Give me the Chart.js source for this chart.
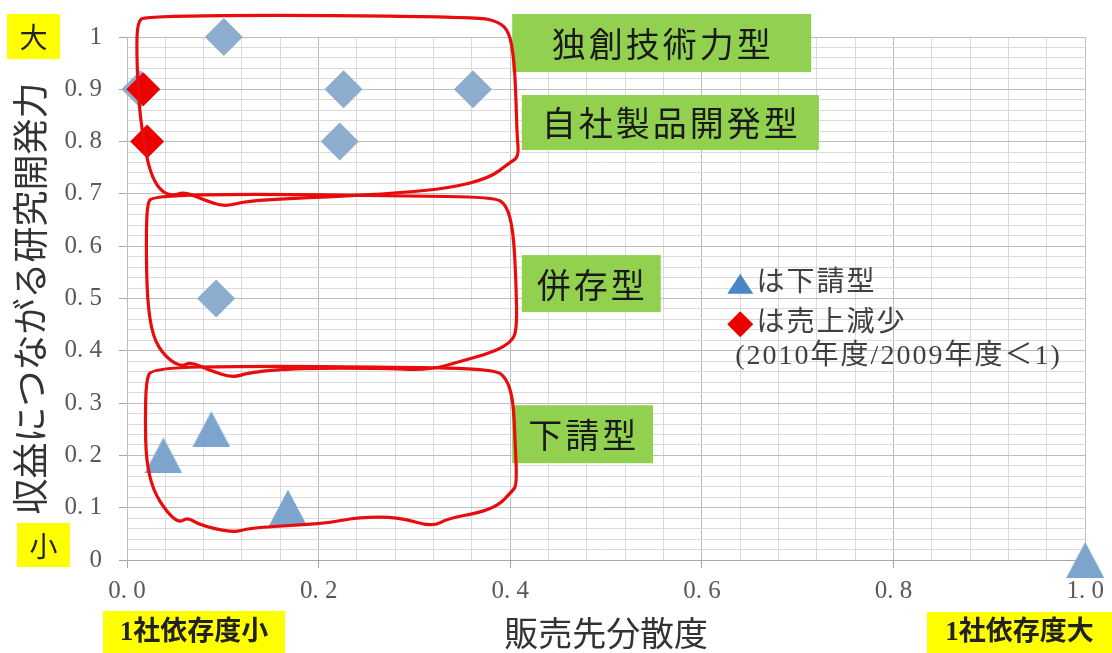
<!DOCTYPE html>
<html lang="ja">
<head>
<meta charset="utf-8" />
<title>販売先分散度と研究開発力</title>
<script src="https://cdn.jsdelivr.net/npm/chart.js@4.4.0/dist/chart.umd.min.js"></script>
<style>
  body { margin: 0; background: #fff; }
  canvas { display: block; }
</style>
</head>
<body>
<canvas id="myChart" width="1112" height="653"></canvas>
<script>
// ◆ 研究開発型の企業
var diamondX = [0.014, 0.101, 0.226, 0.222, 0.361, 0.093];
var diamondY = [0.9, 1.0, 0.9, 0.8, 0.9, 0.5];
// 赤◆ 売上減少 (2010年度/2009年度<1)
var declineX = [0.017, 0.021];
var declineY = [0.9, 0.8];
// ▲ 下請型
var subconX = [0.038, 0.088, 0.168, 1.0];
var subconY = [0.2, 0.25, 0.1, 0.0];

var xTickLabels = ['0. 0', '0. 2', '0. 4', '0. 6', '0. 8', '1. 0'];
var yTickLabels = ['0', '0. 1', '0. 2', '0. 3', '0. 4', '0. 5', '0. 6', '0. 7', '0. 8', '0. 9', '1'];

var SERIF = "'Liberation Serif', 'Noto Sans CJK JP', serif";
var GOTHIC = "'Noto Sans CJK JP', sans-serif";

function zip(xs, ys) {
    var out = [];
    for (var i = 0; i < xs.length; i++) out.push({x: xs[i], y: ys[i]});
    return out;
}

function majorIndex(v, step) {
    var k = Math.round(v / step);
    return Math.abs(v - k * step) < 1e-6 ? k : -1;
}

// bbox-centred triangle marker
function makeTriangle(w, h, color) {
    var c = document.createElement('canvas');
    c.width = w; c.height = h;
    var g = c.getContext('2d');
    g.fillStyle = color;
    g.beginPath();
    g.moveTo(w / 2, 0);
    g.lineTo(w, h);
    g.lineTo(0, h);
    g.closePath();
    g.fill();
    return c;
}

// hand drawn groupings, in data units
var loops = [
    [[0.019,1.040],[0.180,1.042],[0.367,1.038],[0.388,1.029],[0.399,1.010],[0.404,0.956],[0.406,0.880],
     [0.407,0.813],[0.409,0.771],[0.399,0.759],[0.378,0.730],[0.336,0.711],[0.284,0.702],[0.211,0.694],
     [0.128,0.688],[0.102,0.675],[0.081,0.688],[0.060,0.704],[0.047,0.696],[0.034,0.707],[0.024,0.742],
     [0.017,0.803],[0.012,0.880],[0.010,0.975],[0.011,1.029]],
    [[0.026,0.696],[0.128,0.700],[0.284,0.696],[0.383,0.694],[0.396,0.679],[0.403,0.631],[0.406,0.535],
     [0.407,0.440],[0.401,0.417],[0.383,0.398],[0.347,0.379],[0.315,0.363],[0.263,0.367],[0.180,0.367],
     [0.128,0.359],[0.110,0.348],[0.086,0.363],[0.066,0.379],[0.057,0.369],[0.040,0.388],[0.027,0.426],
     [0.021,0.497],[0.020,0.612],[0.021,0.679]],
    [[0.026,0.367],[0.128,0.371],[0.284,0.369],[0.383,0.365],[0.396,0.348],[0.403,0.306],[0.405,0.229],
     [0.407,0.143],[0.401,0.130],[0.388,0.105],[0.367,0.090],[0.336,0.080],[0.318,0.063],[0.284,0.082],
     [0.242,0.082],[0.211,0.071],[0.180,0.067],[0.128,0.061],[0.110,0.052],[0.076,0.067],[0.063,0.082],
     [0.055,0.071],[0.042,0.090],[0.027,0.134],[0.020,0.191],[0.019,0.268],[0.020,0.344]]
];

// category labels (left, top, right, bottom in data units)
var typeBoxes = [
    {text: '独創技術力型', box: [0.402, 1.044, 0.714, 0.933]},
    {text: '自社製品開発型', box: [0.412, 0.889, 0.722, 0.784]},
    {text: '併存型', box: [0.412, 0.583, 0.557, 0.474]},
    {text: '下請型', box: [0.402, 0.296, 0.549, 0.185]}
];

function drawLoop(ctx, pts) {
    var n = pts.length;
    function mid(a, b) { return [(a[0] + b[0]) / 2, (a[1] + b[1]) / 2]; }
    var m0 = mid(pts[n - 1], pts[0]);
    ctx.beginPath();
    ctx.moveTo(m0[0], m0[1]);
    for (var i = 0; i < n; i++) {
        var m = mid(pts[i], pts[(i + 1) % n]);
        ctx.quadraticCurveTo(pts[i][0], pts[i][1], m[0], m[1]);
    }
    ctx.closePath();
    ctx.stroke();
}

function yellowLabel(ctx, text, l, t, r, b, font) {
    ctx.fillStyle = '#ffff00';
    ctx.fillRect(l, t, r - l, b - t);
    ctx.fillStyle = '#222';
    ctx.font = font;
    ctx.textAlign = 'center';
    ctx.textBaseline = 'middle';
    ctx.fillText(text, (l + r) / 2, (t + b) / 2 + 1);
}

var annotations = {
    id: 'annotations',
    afterDatasetsDraw: function(chart) {
        var ctx = chart.ctx, xs = chart.scales.x, ys = chart.scales.y;
        ctx.save();
        typeBoxes.forEach(function(tb) {
            var l = xs.getPixelForValue(tb.box[0]), t = ys.getPixelForValue(tb.box[1]);
            var r = xs.getPixelForValue(tb.box[2]), b = ys.getPixelForValue(tb.box[3]);
            ctx.fillStyle = '#92d050';
            ctx.fillRect(l, t, r - l, b - t);
            ctx.fillStyle = '#1a1a1a';
            ctx.font = '34px ' + GOTHIC;
            ctx.letterSpacing = '3px';
            ctx.textAlign = 'center';
            ctx.textBaseline = 'middle';
            ctx.fillText(tb.text, (l + r) / 2 + 1, (t + b) / 2 + 1);
        });
        ctx.letterSpacing = '0px';

        // red hand drawn loops
        ctx.strokeStyle = 'rgb(232,12,12)';
        ctx.lineWidth = 3.2;
        ctx.lineJoin = 'round';
        loops.forEach(function(loop) {
            drawLoop(ctx, loop.map(function(p) {
                return [xs.getPixelForValue(p[0]), ys.getPixelForValue(p[1])];
            }));
        });

        // key
        var kx = xs.getPixelForValue(0.640), tx = xs.getPixelForValue(0.657);
        var k1 = ys.getPixelForValue(0.528), k2 = ys.getPixelForValue(0.451), k3 = ys.getPixelForValue(0.388);
        ctx.fillStyle = 'rgb(74,134,196)';
        ctx.beginPath();
        ctx.moveTo(kx, k1 - 10); ctx.lineTo(kx + 13, k1 + 10); ctx.lineTo(kx - 13, k1 + 10);
        ctx.closePath(); ctx.fill();
        ctx.fillStyle = 'rgb(235,0,0)';
        ctx.beginPath();
        ctx.moveTo(kx, k2 - 13); ctx.lineTo(kx + 13, k2); ctx.lineTo(kx, k2 + 13); ctx.lineTo(kx - 13, k2);
        ctx.closePath(); ctx.fill();
        ctx.fillStyle = '#404040';
        ctx.font = '28px ' + SERIF;
        ctx.textAlign = 'left';
        ctx.textBaseline = 'middle';
        ctx.letterSpacing = '2px';
        ctx.fillText('は下請型', tx, k1);
        ctx.fillText('は売上減少', tx, k2);
        ctx.fillText('(2010年度/2009年度＜1)', kx - 5, k3);
        ctx.restore();
    },
    afterDraw: function(chart) {
        var ctx = chart.ctx;
        ctx.save();
        yellowLabel(ctx, '大', 7, 14, 60, 59, '28px ' + GOTHIC);
        yellowLabel(ctx, '小', 17, 523, 70, 567, '28px ' + GOTHIC);
        yellowLabel(ctx, '1社依存度小', 103, 611, 285, 653, 'bold 27px ' + SERIF);
        yellowLabel(ctx, '1社依存度大', 927, 612, 1112, 653, 'bold 27px ' + SERIF);
        ctx.restore();
    }
};

function gridColor(step) {
    return function(c) { return majorIndex(c.tick.value, step) >= 0 ? '#bdbdbd' : '#dadada'; };
}
function tickMarkColor(step) {
    return function(c) { return majorIndex(c.tick.value, step) >= 0 ? '#a6a6a6' : 'rgba(0,0,0,0)'; };
}

var ctx = document.getElementById('myChart');
var myChart = new Chart(ctx, {
    type: 'scatter',
    data: {
        datasets: [{
            data: zip(diamondX, diamondY),
            order: 3,
            pointStyle: 'rectRot',
            pointRadius: 19,
            backgroundColor: 'rgb(141,173,207)',
            borderWidth: 0,
            clip: false
        }, {
            data: zip(declineX, declineY),
            order: 1,
            pointStyle: 'rectRot',
            pointRadius: 17,
            backgroundColor: 'rgb(236,0,0)',
            borderWidth: 0,
            clip: false
        }, {
            data: zip(subconX, subconY),
            order: 2,
            pointStyle: makeTriangle(38, 36, 'rgb(124,164,205)'),
            pointRadius: 19,
            borderWidth: 0,
            clip: false
        }]
    },
    plugins: [annotations],
    options: {
        responsive: false,
        animation: false,
        events: [],
        layout: { padding: { top: 37, right: 24, bottom: 0, left: 0 } },
        plugins: { legend: { display: false }, tooltip: { enabled: false } },
        scales: {
            x: {
                type: 'linear',
                min: 0,
                max: 1,
                afterFit: function(scale) { scale.height = 93; },
                border: { color: '#a6a6a6' },
                grid: { color: gridColor(0.2), tickColor: tickMarkColor(0.2), tickLength: 8 },
                ticks: {
                    stepSize: 0.04,
                    autoSkip: false,
                    maxRotation: 0,
                    padding: 8,
                    color: '#595959',
                    font: { family: SERIF, size: 25 },
                    callback: function(v) {
                        var k = majorIndex(v, 0.2);
                        return k >= 0 ? xTickLabels[k] : '';
                    }
                },
                title: {
                    display: true,
                    text: '販売先分散度',
                    color: '#333',
                    font: { family: GOTHIC, size: 34 },
                    padding: { top: 1, bottom: 0 }
                }
            },
            y: {
                min: 0,
                max: 1,
                afterFit: function(scale) { scale.width = 127; },
                border: { color: '#bdbdbd' },
                grid: { color: gridColor(0.1), tickColor: tickMarkColor(0.1), tickLength: 8 },
                ticks: {
                    stepSize: 0.02,
                    autoSkip: false,
                    padding: 17,
                    color: '#595959',
                    font: { family: SERIF, size: 25 },
                    callback: function(v) {
                        var k = majorIndex(v, 0.1);
                        return k >= 0 ? yTickLabels[k] : '';
                    }
                },
                title: {
                    display: true,
                    text: '収益につながる研究開発力',
                    color: '#333',
                    font: { family: GOTHIC, size: 36 },
                    padding: { top: 9, bottom: 0 }
                }
            }
        }
    }
});
</script>
</body>
</html>
